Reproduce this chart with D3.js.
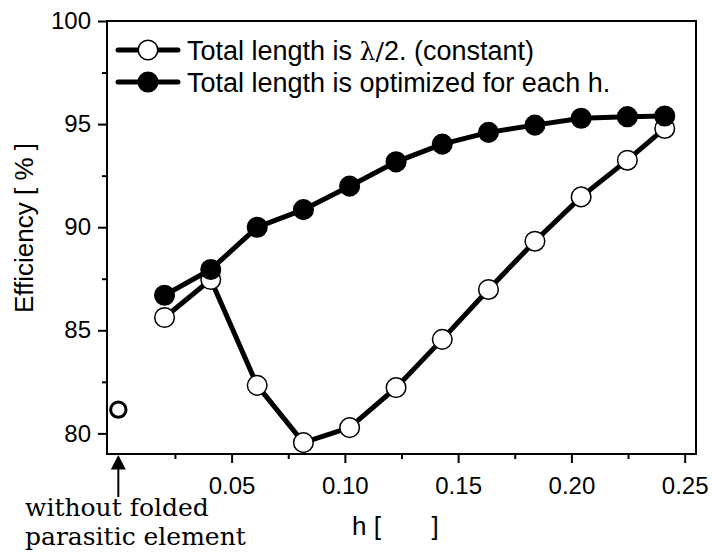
<!DOCTYPE html>
<html>
<head>
<meta charset="utf-8">
<script src="https://cdnjs.cloudflare.com/ajax/libs/d3/7.8.5/d3.min.js"></script>
<style>
body { margin: 0; background: #fff; }
.tick text { font-family: "Liberation Sans", Arial, sans-serif; font-size: 24px; fill: #000; }
.lbl { font-family: "Liberation Sans", Arial, sans-serif; font-size: 26px; fill: #000; }
.note { font-family: "DejaVu Serif", serif; font-size: 25px; fill: #000; }
</style>
</head>
<body>
<div id="chart"></div>
<script>
// h values
var hVals = [0.0204, 0.0408, 0.0613, 0.0817, 0.1021, 0.1226, 0.1430, 0.1634, 0.1839, 0.2043, 0.2247, 0.2412];
// total length lambda/2 (open circles)
var constantEff = [85.62, 87.46, 82.33, 79.55, 80.28, 82.22, 84.56, 86.98, 89.32, 91.47, 93.25, 94.79];
// total length optimized (filled circles)
var optimizedEff = [86.70, 87.95, 90.00, 90.85, 91.99, 93.17, 94.03, 94.60, 94.95, 95.28, 95.36, 95.39];
// reference without folded parasitic element
var noElement = [{h: 0, eff: 81.15}];

var xMajor = [0.05, 0.10, 0.15, 0.20, 0.25];
var xMinor = [0.025, 0.075, 0.125, 0.175, 0.225];
var yMajor = [80, 85, 90, 95, 100];
var yMinor = [82.5, 87.5, 92.5, 97.5];

var legendNames = ["Total length is ", "Total length is optimized for each h."];

var width = 712, height = 558;
var padL = 107, padR = 696, padT = 21, padB = 454;

var svg = d3.select("#chart").append("svg").attr("width", width).attr("height", height);
svg.append("rect").attr("width", width).attr("height", height).attr("fill", "#fff");

var xscale = d3.scaleLinear().domain([-0.005, 0.255]).range([padL, padR]);
var yscale = d3.scaleLinear().domain([79, 100]).range([padB, padT]);

// minor ticks first
svg.append("g").attr("transform", "translate(0," + padB + ")")
  .call(d3.axisBottom(xscale).tickValues(xMinor).tickSize(5).tickSizeOuter(0).tickFormat(""));
svg.append("g").attr("transform", "translate(" + padL + ",0)")
  .call(d3.axisLeft(yscale).tickValues(yMinor).tickSize(5).tickSizeOuter(0).tickFormat(""));

svg.append("g").attr("transform", "translate(0," + padB + ")")
  .call(d3.axisBottom(xscale).tickValues(xMajor).tickSize(9).tickSizeOuter(0).tickPadding(14).tickFormat(d3.format(".2f")));
svg.append("g").attr("transform", "translate(" + padL + ",0)")
  .call(d3.axisLeft(yscale).tickValues(yMajor).tickSize(9).tickSizeOuter(0).tickPadding(7).tickFormat(d3.format("d")));

svg.selectAll(".domain").remove();
svg.selectAll(".tick line").attr("stroke", "#000").attr("stroke-width", 2);

// frame
svg.append("rect").attr("x", padL).attr("y", padT).attr("width", padR - padL).attr("height", padB - padT)
  .attr("fill", "none").attr("stroke", "#000").attr("stroke-width", 2);

var line = d3.line()
  .x(function(d) { return xscale(d.h); })
  .y(function(d) { return yscale(d.eff); });

function series(vals) {
  return hVals.map(function(h, i) { return {h: h, eff: vals[i]}; });
}

var seriesList = [
  {data: series(constantEff), fill: "#fff"},
  {data: series(optimizedEff), fill: "#000"}
];

seriesList.forEach(function(s) {
  svg.append("path").datum(s.data).attr("d", line)
    .attr("fill", "none").attr("stroke", "#000").attr("stroke-width", 5);
  svg.selectAll(null).data(s.data).enter().append("circle")
    .attr("cx", function(d) { return xscale(d.h); })
    .attr("cy", function(d) { return yscale(d.eff); })
    .attr("r", 9.8)
    .attr("fill", s.fill).attr("stroke", "#000").attr("stroke-width", 1.5);
});

svg.selectAll(null).data(noElement).enter().append("circle")
  .attr("cx", function(d) { return xscale(d.h); })
  .attr("cy", function(d) { return yscale(d.eff); })
  .attr("r", 7.7)
  .attr("fill", "#fff").attr("stroke", "#000").attr("stroke-width", 3);

// legend
var legend = svg.append("g");
var legY = [50, 82];
legendNames.forEach(function(name, i) {
  legend.append("line").attr("x1", 118).attr("x2", 178).attr("y1", legY[i]).attr("y2", legY[i])
    .attr("stroke", "#000").attr("stroke-width", 5).attr("stroke-linecap", "round");
  legend.append("circle").attr("cx", 148).attr("cy", legY[i]).attr("r", 9.8)
    .attr("fill", seriesList[i].fill).attr("stroke", "#000").attr("stroke-width", 1.5);
  var t = legend.append("text").attr("class", "lbl").attr("x", 187).attr("y", legY[i] + 9.5)
    .style("font-size", "27px").text(name);
  if (i === 0) {
    t.append("tspan").style("font-family", "'DejaVu Serif', serif").style("font-size", "25px").text("λ/");
    t.append("tspan").text("2. (constant)");
  }
});

// axis titles
svg.append("text").attr("class", "lbl").attr("text-anchor", "middle")
  .attr("transform", "translate(33,228) rotate(-90)")
  .text("Efficiency [ % ]");

svg.append("text").attr("class", "lbl").attr("x", 352).attr("y", 535)
  .style("white-space", "pre").text("h [       ]");

// annotation arrow
var ax = xscale(0);
svg.append("line").attr("x1", ax).attr("x2", ax).attr("y1", 468).attr("y2", 497)
  .attr("stroke", "#000").attr("stroke-width", 2);
svg.append("path")
  .attr("d", "M" + ax + ",455 L" + (ax - 7.5) + ",469.5 L" + (ax + 7.5) + ",469.5 Z")
  .attr("fill", "#000");

svg.append("text").attr("class", "note").attr("x", 25).attr("y", 516).text("without folded");
svg.append("text").attr("class", "note").attr("x", 25).attr("y", 545).text("parasitic element");
</script>
</body>
</html>
